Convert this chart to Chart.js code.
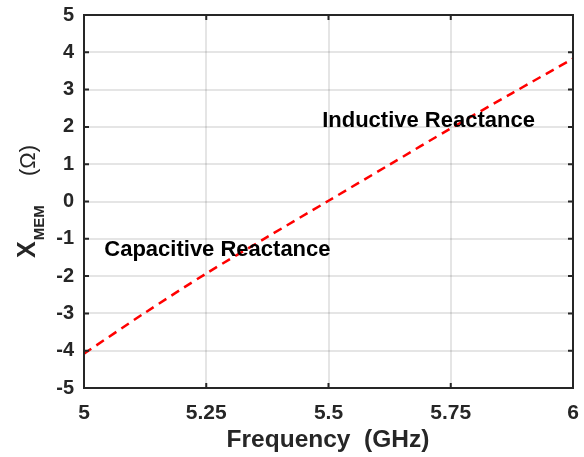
<!DOCTYPE html>
<html>
<head>
<meta charset="utf-8">
<script src="https://cdn.jsdelivr.net/npm/chart.js@4/dist/chart.umd.min.js"></script>
<style>
  html, body { margin: 0; padding: 0; background: #fff; }
  #wrap { width: 584px; height: 457px; }
</style>
</head>
<body>
<div id="wrap"><canvas id="reactance" width="584" height="457"></canvas></div>
<script>
// Reactance of the MEM element vs frequency
const frequency = [5, 5.125, 5.25, 5.375, 5.5, 5.625, 5.75, 5.875, 6];
const reactance = [-4.08, -2.98, -1.93, -0.95, 0.02, 0.99, 1.96, 2.9, 3.83];

const xTicks = [5, 5.25, 5.5, 5.75, 6];
const yTicks = [-5, -4, -3, -2, -1, 0, 1, 2, 3, 4, 5];

// text labels placed in data units (left edge, vertical centre)
const noteText = ['Inductive Reactance', 'Capacitive Reactance'];
const noteX = [5.487, 5.0415];
const noteY = [2.16, -1.31];

const INK = '#262626';
const FONT = '"Liberation Sans", Arial, Helvetica, sans-serif';

// frame, inward tick marks, axis titles and notes (MATLAB look)
const matlabDecor = {
    id: 'matlabDecor',
    afterDatasetsDraw(chart) {
        const { ctx, chartArea: a, scales: { x, y } } = chart;
        ctx.save();

        // notes
        ctx.fillStyle = '#000';
        ctx.font = 'bold 22px ' + FONT;
        ctx.textAlign = 'left';
        ctx.textBaseline = 'middle';
        noteText.forEach((t, i) => {
            ctx.fillText(t, x.getPixelForValue(noteX[i]), y.getPixelForValue(noteY[i]));
        });

        // box
        ctx.strokeStyle = INK;
        ctx.lineWidth = 2;
        ctx.strokeRect(a.left, a.top, a.right - a.left, a.bottom - a.top);

        // inward ticks
        const len = 5;
        ctx.beginPath();
        xTicks.forEach(v => {
            const px = x.getPixelForValue(v);
            ctx.moveTo(px, a.bottom); ctx.lineTo(px, a.bottom - len);
            ctx.moveTo(px, a.top); ctx.lineTo(px, a.top + len);
        });
        yTicks.forEach(v => {
            const py = y.getPixelForValue(v);
            ctx.moveTo(a.left, py); ctx.lineTo(a.left + len, py);
            ctx.moveTo(a.right, py); ctx.lineTo(a.right - len, py);
        });
        ctx.stroke();

        // x title
        ctx.fillStyle = INK;
        ctx.font = 'bold 24.5px ' + FONT;
        ctx.textAlign = 'center';
        ctx.textBaseline = 'middle';
        ctx.fillText('Frequency  (GHz)', 328, 440);

        // y title: X_MEM (Ω), rotated
        ctx.translate(35, 0);
        ctx.rotate(-Math.PI / 2);
        ctx.textAlign = 'left';
        ctx.textBaseline = 'alphabetic';
        ctx.font = 'bold 25px ' + FONT;
        ctx.fillText('X', -258, 0);
        const wX = ctx.measureText('X').width;
        ctx.font = 'bold 15px ' + FONT;
        ctx.fillText('MEM', -258 + wX + 1, 9);
        ctx.font = '22px ' + FONT;
        ctx.fillText('(Ω)', -176, 0);

        ctx.restore();
    }
};

new Chart(document.getElementById('reactance'), {
    type: 'line',
    data: {
        datasets: [{
            data: frequency.map((f, i) => ({ x: f, y: reactance[i] })),
            borderColor: '#ff0000',
            borderWidth: 2.5,
            borderDash: [9, 6],
            pointRadius: 0,
            tension: 0.3,
            fill: false
        }]
    },
    options: {
        responsive: false,
        animation: false,
        devicePixelRatio: 1,
        layout: { padding: { top: 15, right: 11, left: 0, bottom: 0 } },
        plugins: {
            legend: { display: false },
            tooltip: { enabled: false }
        },
        scales: {
            x: {
                type: 'linear',
                min: 5,
                max: 6,
                afterBuildTicks: s => { s.ticks = xTicks.map(v => ({ value: v })); },
                afterFit: s => { s.height = 69; s.paddingLeft = 0; s.paddingRight = 0; },
                grid: { color: 'rgba(38,38,38,0.12)', lineWidth: 2, drawTicks: false },
                border: { display: false },
                ticks: {
                    color: INK,
                    padding: 13,
                    maxRotation: 0,
                    font: { family: FONT, size: 21, weight: 'bold' },
                    callback: v => String(v)
                }
            },
            y: {
                type: 'linear',
                min: -5,
                max: 5,
                afterBuildTicks: s => { s.ticks = yTicks.map(v => ({ value: v })); },
                afterFit: s => { s.width = 84; s.paddingTop = 0; s.paddingBottom = 0; },
                grid: { color: 'rgba(38,38,38,0.12)', lineWidth: 2, drawTicks: false },
                border: { display: false },
                ticks: {
                    color: INK,
                    padding: 10,
                    font: { family: FONT, size: 20, weight: 'bold' },
                    callback: v => String(v)
                }
            }
        }
    },
    plugins: [matlabDecor]
});
</script>
</body>
</html>
